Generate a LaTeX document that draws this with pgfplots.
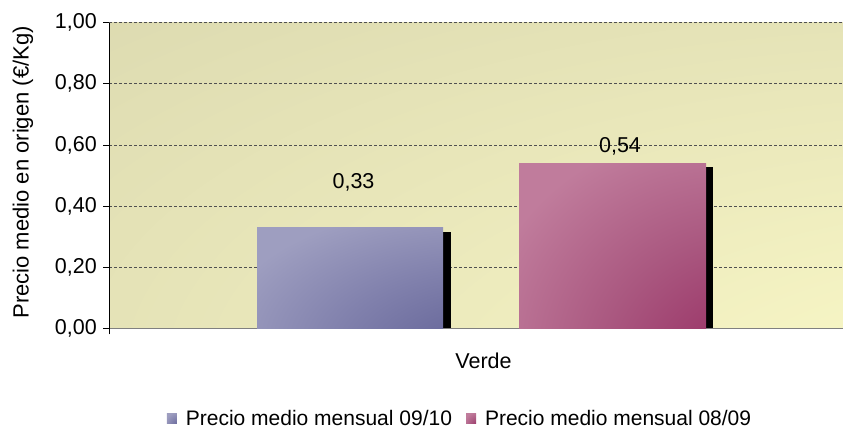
\documentclass[border=0pt]{standalone}
\usepackage{pgfplots}
\pgfplotsset{compat=1.18}
\usepackage{fontspec}
\setmainfont{Liberation Sans}
\definecolor{bglight}{RGB}{254,253,203}
\definecolor{bgmid1}{RGB}{250,249,199}
\definecolor{bgmid2}{RGB}{237,235,189}
\definecolor{bgdark}{RGB}{220,218,176}
\definecolor{bdark}{RGB}{102,102,153}
\definecolor{bmid}{RGB}{128,128,172}
\definecolor{blight}{RGB}{158,158,192}
\definecolor{pdark}{RGB}{153,51,102}
\definecolor{pmid}{RGB}{170,88,128}
\definecolor{plight}{RGB}{192,124,156}
\definecolor{gridc}{RGB}{80,80,80}
\pgfdeclareradialshading{bgshade}{\pgfpoint{50bp}{-50bp}}{color(0bp)=(bglight); color(15bp)=(bgmid1); color(40bp)=(bgmid2); color(75bp)=(bgdark); color(150bp)=(bgdark)}
\pgfdeclareradialshading{blueshade}{\pgfpoint{50bp}{-50bp}}{color(0bp)=(bdark); color(18bp)=(bdark); color(40bp)=(bmid); color(64bp)=(blight); color(150bp)=(blight)}
\pgfdeclareradialshading{pinkshade}{\pgfpoint{50bp}{-50bp}}{color(0bp)=(pdark); color(18bp)=(pdark); color(40bp)=(pmid); color(64bp)=(plight); color(150bp)=(plight)}
\newcommand{\chartfont}{\fontsize{21.5}{25}\selectfont}
\begin{document}
\begin{tikzpicture}
\useasboundingbox (-109.3pt,-100.7pt) rectangle (733.7pt,328.3pt);
\begin{axis}[
  at={(0pt,0pt)}, anchor=south west,
  scale only axis, width=733.7pt, height=305.6pt,
  xmin=0, xmax=733.7, ymin=0, ymax=1,
  clip=false,
  axis lines*=left,
  x axis line style={draw=gray, line width=1.3pt},
  y axis line style={draw=black, line width=0.9pt},
  axis background/.style={shading=bgshade, shade},
  ytick={0,0.2,0.4,0.6,0.8,1},
  /pgf/number format/.cd, fixed, fixed zerofill, precision=2, use comma, assume math mode=true,
  /pgfplots/.cd,
  ymajorgrids,
  grid style={draw=gridc, line width=0.8pt, dash pattern=on 3pt off 2pt},
  xtick=\empty,
  extra x ticks={0}, extra x tick labels={},
  extra x tick style={grid=none},
  tick align=outside, major tick length=6pt,
  tick style={draw=black, line width=0.8pt},
  ticklabel style={font=\chartfont},
  yticklabel style={xshift=-3pt},
  ylabel={Precio medio en origen (€/Kg)},
  ylabel style={font=\fontsize{22}{25}\selectfont, at={(axis description cs:-0.1176,0.51)}, anchor=center},
  legend style={at={(axis description cs:0.478,-0.296)}, anchor=center, draw=none, fill=none,
    font=\fontsize{21}{25}\selectfont, legend columns=2,
    /tikz/every odd column/.append style={column sep=7pt},
    /tikz/every even column/.append style={column sep=12pt}},
  legend cell align=left,
]
\addplot[ybar, bar width=8, bar shift=0pt, fill=black, draw=none, forget plot] coordinates {(337.7,0.315)};
\addplot[ybar, bar width=7, bar shift=0pt, fill=black, draw=none, forget plot] coordinates {(600.2,0.528)};
\addplot[ybar, bar width=186, bar shift=0pt, draw=none, shading=blueshade, shade,
  legend image code/.code={\path[shading=blueshade, shade] (0pt,-5pt) rectangle (10pt,5pt);}] coordinates {(240.7,0.33)};
\addlegendentry{Precio medio mensual 09/10}
\addplot[ybar, bar width=187, bar shift=0pt, draw=none, shading=pinkshade, shade,
  legend image code/.code={\path[shading=pinkshade, shade] (0pt,-5pt) rectangle (10pt,5pt);}] coordinates {(503.2,0.54)};
\addlegendentry{Precio medio mensual 08/09}
\node[anchor=base, font=\chartfont] at (axis cs:244.2,0.456) {0,33};
\node[anchor=base, font=\chartfont] at (axis cs:510.7,0.574) {0,54};
\node[anchor=base, font=\chartfont] at (axis cs:374.2,0) [yshift=-39.7pt] {Verde};
\end{axis}
\end{tikzpicture}
\end{document}
